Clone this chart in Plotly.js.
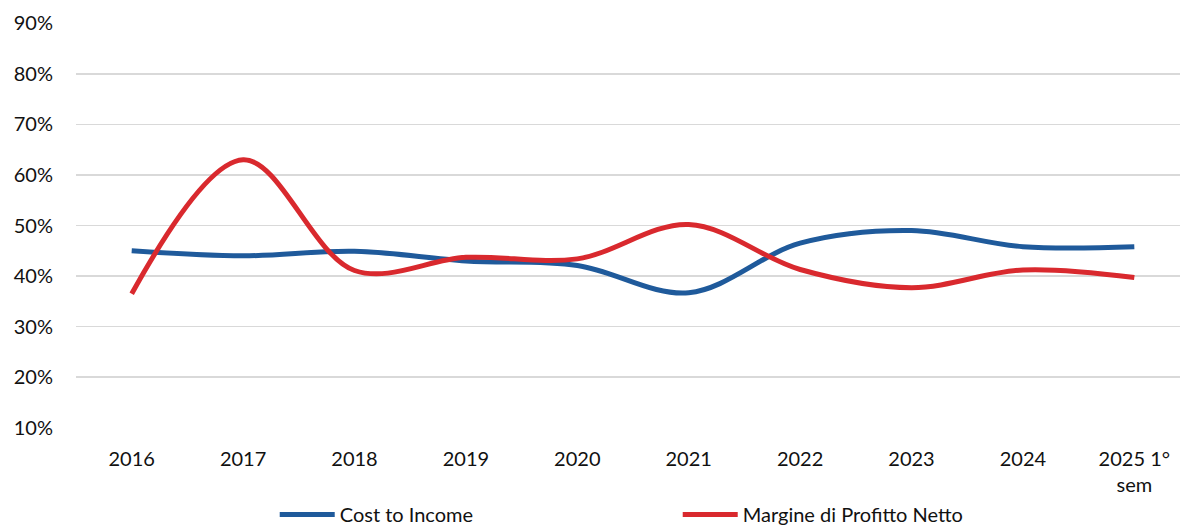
<!DOCTYPE html>
<html>
<head>
<meta charset="utf-8">
<script src="https://cdn.plot.ly/plotly-3.0.1.min.js"></script>
<style>
  html, body { margin: 0; padding: 0; background: #ffffff; }
  #chart { width: 1180px; height: 526px; }
</style>
</head>
<body>
<div id="chart"></div>
<script>
const categories = ["2016", "2017", "2018", "2019", "2020", "2021", "2022", "2023", "2024", "2025 1°<br>sem"];
const costToIncome = [0.450, 0.440, 0.449, 0.430, 0.421, 0.367, 0.465, 0.490, 0.458, 0.458];
const margineProfitto = [0.365, 0.630, 0.411, 0.437, 0.434, 0.502, 0.413, 0.377, 0.412, 0.397];
const yTickVals = [0.1, 0.2, 0.3, 0.4, 0.5, 0.6, 0.7, 0.8, 0.9];

const fontFamily = "Lato, 'Open Sans', sans-serif";

const traces = [
  {
    x: categories, y: costToIncome, name: "Cost to Income",
    type: "scatter", mode: "lines",
    line: { color: "#1F5A9B", width: 5, shape: "spline", smoothing: 1 }
  },
  {
    x: categories, y: margineProfitto, name: "Margine di Profitto Netto",
    type: "scatter", mode: "lines",
    line: { color: "#D9292E", width: 5, shape: "spline", smoothing: 1 }
  }
];

const layout = {
  width: 1180, height: 526,
  margin: { l: 76, r: 0, t: 23, b: 98, autoexpand: false },
  paper_bgcolor: "#ffffff", plot_bgcolor: "#ffffff",
  font: { family: fontFamily, size: 20, color: "#111111" },
  showlegend: true,
  legend: {
    orientation: "h", x: 0.18, xanchor: "left",
    yref: "container", y: 0.022, yanchor: "middle",
    font: { family: fontFamily, size: 20, color: "#111111" },
    entrywidth: 333, itemwidth: 55, tracegroupgap: 0
  },
  xaxis: {
    type: "category", range: [-0.5, 9.41], automargin: false,
    showgrid: false, zeroline: false, showline: false,
    ticks: "", ticklabelstandoff: 17,
    tickfont: { family: fontFamily, size: 20, color: "#111111" }
  },
  yaxis: {
    range: [0.0995, 0.9005], tickvals: yTickVals, tickformat: ".0%", automargin: false,
    showgrid: true, gridcolor: "#d9d9d9", gridwidth: 1.5,
    zeroline: false, showline: false, ticks: "", ticklabelstandoff: 22,
    tickfont: { family: fontFamily, size: 20, color: "#111111" }
  }
};

Plotly.newPlot("chart", traces, layout, { staticPlot: true, displayModeBar: false });
</script>
</body>
</html>
